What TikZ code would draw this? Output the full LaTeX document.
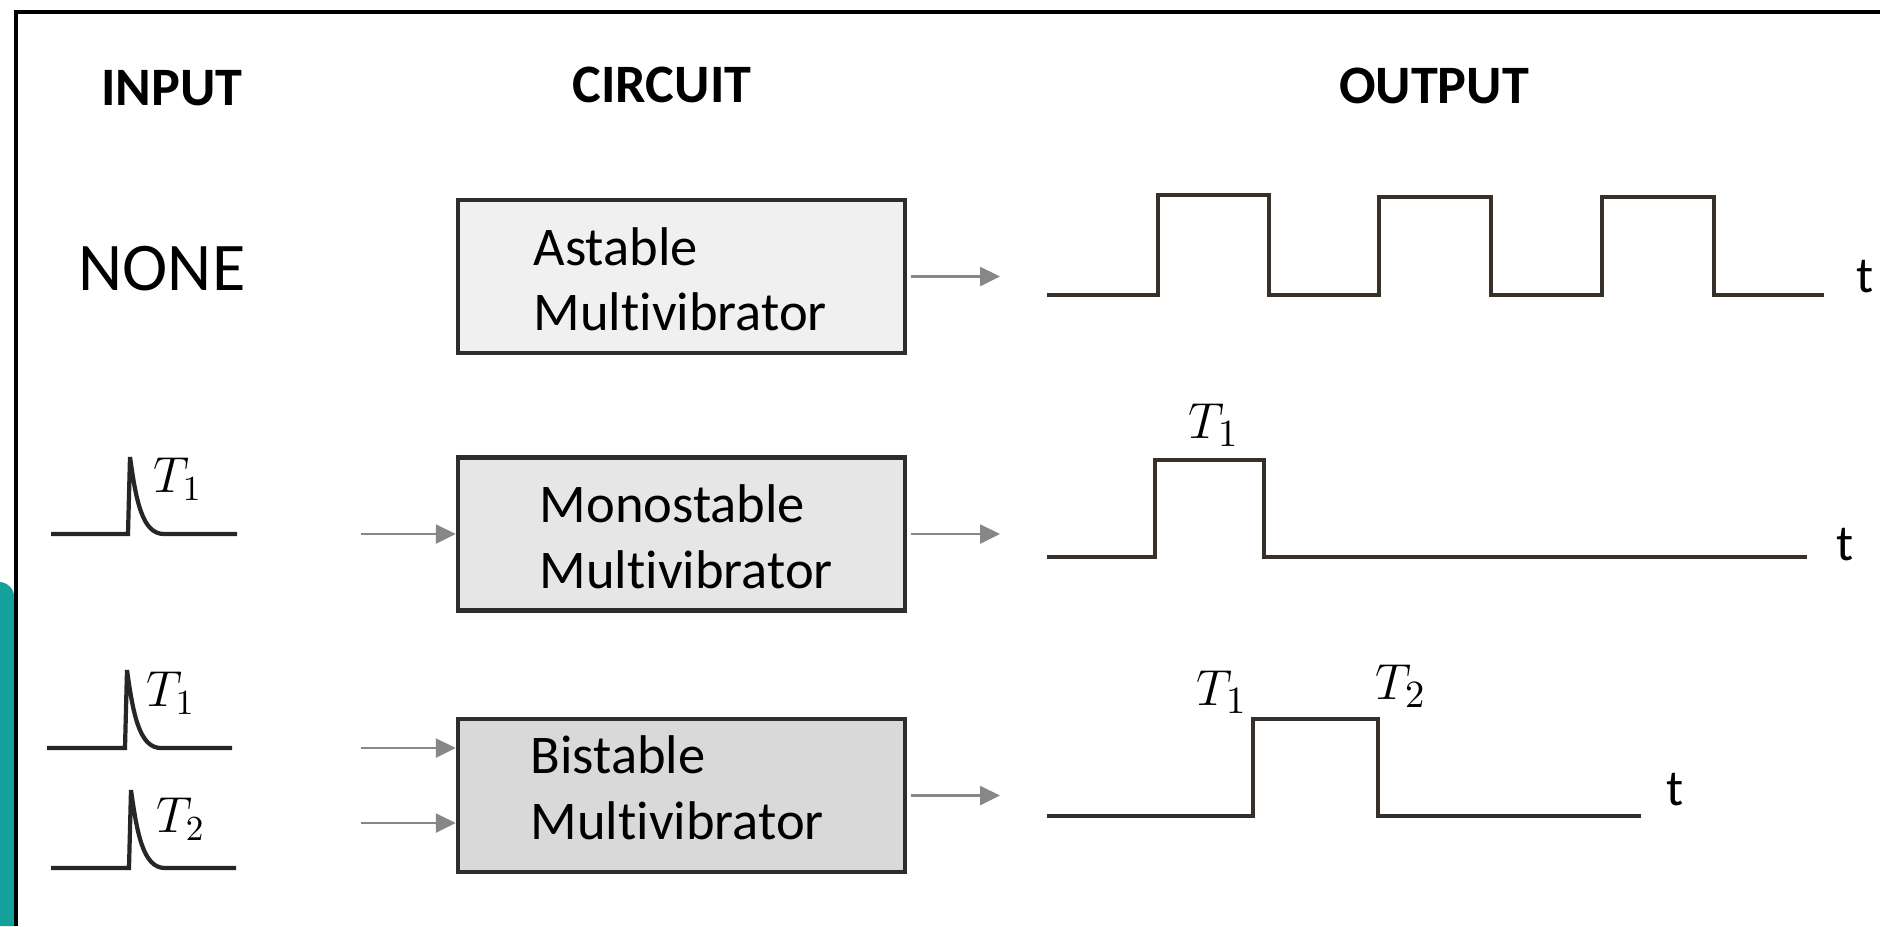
\documentclass[tikz,border=0pt]{standalone}
\usepackage[no-math]{fontspec}
\setmainfont{Carlito}[Ligatures=NoCommon]
\usetikzlibrary{arrows.meta}
\definecolor{wavec}{RGB}{55,48,40}
\definecolor{arrgray}{RGB}{135,135,135}
\definecolor{tealc}{RGB}{20,160,155}
\definecolor{fillA}{RGB}{240,240,240}
\definecolor{fillB}{RGB}{230,230,230}
\definecolor{fillC}{RGB}{217,217,217}
\definecolor{edgec}{RGB}{45,45,45}
\begin{document}
\begin{tikzpicture}[x=0.01cm,y=-0.01cm,
  mbox/.style={draw=edgec, line width=1.2pt, minimum width=4.47cm, minimum height=1.53cm, inner sep=0pt},
  boxtxt/.style={anchor=base west, font=\fontsize{15.5}{18}\selectfont, inner sep=0pt},
  head/.style={anchor=base, font=\bfseries\fontsize{15.4}{18}\selectfont, inner sep=0pt},
  arr/.style={draw=arrgray, line width=0.7pt, -{Triangle[length=0.2cm,width=0.19cm]}},
  outwave/.style={draw=wavec, line width=1pt, line join=miter},
  inwave/.style={draw=black!85, line width=1.2pt},
  tlab/.style={font=\fontsize{14.5}{16}\selectfont, inner sep=0pt},
  minlab/.style={font=\fontsize{14}{16}\selectfont, inner sep=0pt},
  moutlab/.style={font=\fontsize{15.5}{18}\selectfont, inner sep=0pt}]
\useasboundingbox (0,0) rectangle (1880,926);
\fill[white] (0,0) rectangle (1880,926);
% teal edge and frame
\fill[tealc] (0,926) -- (0,582) .. controls (6,582) and (14,588) .. (14,596) -- (14,926) -- cycle;
\draw[line width=1.2pt] (16,926) -- (16,12) -- (1880,12);
% headers
\node[head] (hin) at (172,105) {INPUT};
\node[head] (hcirc) at (662,102) {CIRCUIT};
\node[head] (hout) at (1434,103) {OUTPUT};
\node[anchor=base west, inner sep=0pt, font=\fontsize{19.4}{22}\selectfont] (none) at (78,290) {NONE};
% boxes
\node[mbox, fill=fillA] (boxA) at (681.5,276.5) {};
\node[mbox, fill=fillB] (boxM) at (681.5,534) {};
\node[mbox, fill=fillC] (boxB) at (681.5,795.5) {};
\node[boxtxt] (tA1) at (533,265) {Astable};
\node[boxtxt] (tA2) at (533,330) {Multivibrator};
\node[boxtxt] (tM1) at (539,522) {Monostable};
\node[boxtxt] (tM2) at (539,588) {Multivibrator};
\node[boxtxt] (tB1) at (530,773) {Bistable};
\node[boxtxt] (tB2) at (530,839) {Multivibrator};
% arrows
\coordinate (inM) at (361,534);
\coordinate (inB1) at (361,748);
\coordinate (inB2) at (361,823);
\coordinate (outA) at (1000,276.5);
\coordinate (outM) at (1000,534);
\coordinate (outB) at (1000,795.5);
\draw[arr] (inM) -- (inM -| boxM.west);
\draw[arr] (inB1) -- (inB1 -| boxB.west);
\draw[arr] (inB2) -- (inB2 -| boxB.west);
\draw[arr, shorten <=1pt] (boxA.east) -- (outA);
\draw[arr, shorten <=1pt] (boxM.east) -- (outM);
\draw[arr, shorten <=1pt] (boxB.east) -- (outB);
% input pulses
\draw[inwave] (51,534) -- (128,534) -- (130,457) .. controls (136,500) and (142,534) .. (164,534) -- (237,534);
\draw[inwave] (47,748) -- (125,748) -- (127,670) .. controls (133,713) and (139,748) .. (161,748) -- (232,748);
\draw[inwave] (51,868) -- (129,868) -- (131,790) .. controls (137,833) and (143,868) .. (165,868) -- (236,868);
\node[minlab] (iT1) at (178,479) {$T_1$};
\node[minlab] (iBT1) at (171,693) {$T_1$};
\node[minlab] (iBT2) at (181,819) {$T_2$};
% output waveforms
\draw[outwave] (1047,295) -- (1158,295) -- (1158,195) -- (1269,195) -- (1269,295) -- (1379,295) -- (1379,197) -- (1491,197) -- (1491,295) -- (1602,295) -- (1602,197) -- (1714,197) -- (1714,295) -- (1824,295);
\draw[outwave] (1047,557) -- (1155,557) -- (1155,460) -- (1264,460) -- (1264,557) -- (1807,557);
\draw[outwave] (1047,816) -- (1253,816) -- (1253,719) -- (1378,719) -- (1378,816) -- (1641,816);
\node[tlab] (tA) at (1865,277) {t};
\node[tlab] (tM) at (1845,545) {t};
\node[tlab] (tB) at (1675,790) {t};
\node[moutlab] (oT1) at (1214,425) {$T_1$};
\node[moutlab] (oBT1) at (1222,692) {$T_1$};
\node[moutlab] (oBT2) at (1401,686) {$T_2$};
\end{tikzpicture}
\end{document}
